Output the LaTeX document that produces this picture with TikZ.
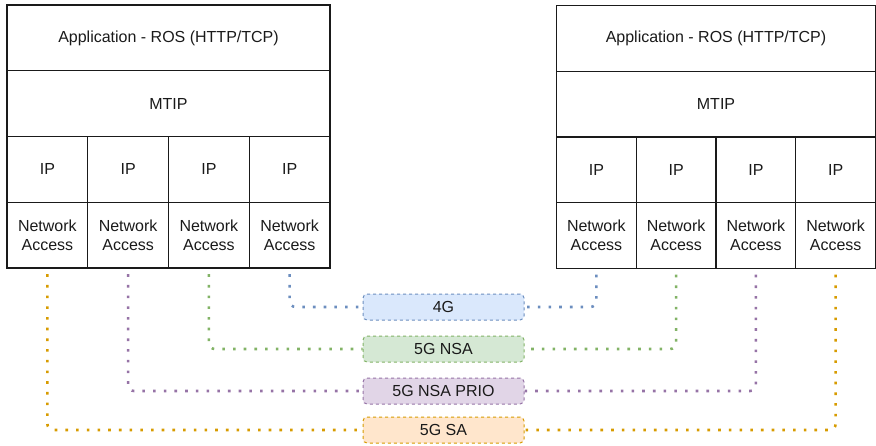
\documentclass[tikz,border=0pt]{standalone}
\usepackage{fontspec}
\setmainfont{Liberation Sans}
\definecolor{txt}{HTML}{1A1A1A}
\definecolor{bluefill}{HTML}{DAE8FC}\definecolor{bluedraw}{HTML}{6C8EBF}
\definecolor{greenfill}{HTML}{D5E8D4}\definecolor{greendraw}{HTML}{82B366}
\definecolor{purplefill}{HTML}{E1D5E7}\definecolor{purpledraw}{HTML}{9673A6}
\definecolor{orangefill}{HTML}{FFE6CC}\definecolor{orangedraw}{HTML}{D79B00}
\begin{document}
\begin{tikzpicture}[x=1pt,y=-1pt,
  lbl/.style={font=\fontsize{16}{19}\selectfont, text=txt},
  cell/.style={lbl, draw=txt, line width=1.3pt, minimum width=80.75pt, minimum height=65.75pt,
    inner sep=0pt, outer sep=0pt, anchor=north west, align=center},
  rcell/.style={cell, minimum width=79.75pt},
  wide/.style={cell, minimum width=323pt},
  rwide/.style={cell, minimum width=319pt},
  tag/.style={lbl, draw, line width=1pt, dash pattern=on 3pt off 3pt, rounded corners=4pt,
    minimum width=161pt, minimum height=26pt, inner sep=0pt},
  link/.style={line width=2.6pt, dash pattern=on 2.6pt off 8.1pt, dash phase=4.5pt, rounded corners=6pt}
]
\useasboundingbox (0,0) rectangle (876,445);
% left stack
\node[wide] (LA) at (7,5) {Application - ROS (HTTP/TCP)};
\node[wide] (LM) at (7,70.75) {MTIP};
\foreach \i in {1,...,4}{
  \node[cell] (LIP\i) at ({7+(\i-1)*80.75},136.5) {IP};
  \node[cell] (LN\i) at ({7+(\i-1)*80.75},202.25) {Network\\Access};
}
% right stack
\node[rwide] (RA) at (556.5,5.5) {Application - ROS (HTTP/TCP)};
\node[rwide] (RM) at (556.5,71.25) {MTIP};
\foreach \i in {1,...,4}{
  \node[rcell] (RIP\i) at ({556.5+(\i-1)*79.75},137) {IP};
  \node[rcell] (RN\i) at ({556.5+(\i-1)*79.75},202.75) {Network\\Access};
}
% tags
\node[tag, draw=bluedraw, fill=bluefill] (g4) at (443.5,307) {4G};
\node[tag, draw=greendraw, fill=greenfill] (nsa) at (443.5,349) {5G NSA};
\node[tag, draw=purpledraw, fill=purplefill] (prio) at (443.5,391) {5G NSA PRIO};
\node[tag, draw=orangedraw, fill=orangefill] (sa) at (443.5,430) {5G SA};
% links
\draw[link, bluedraw] (LN4.south) |- (g4.west);
\draw[link, bluedraw] (RN1.south) |- (g4.east);
\draw[link, greendraw] (LN3.south) |- (nsa.west);
\draw[link, greendraw] (RN2.south) |- (nsa.east);
\draw[link, purpledraw] (LN2.south) |- (prio.west);
\draw[link, purpledraw] (RN3.south) |- (prio.east);
\draw[link, orangedraw] (LN1.south) |- (sa.west);
\draw[link, orangedraw] (RN4.south) |- (sa.east);
\end{tikzpicture}
\end{document}
